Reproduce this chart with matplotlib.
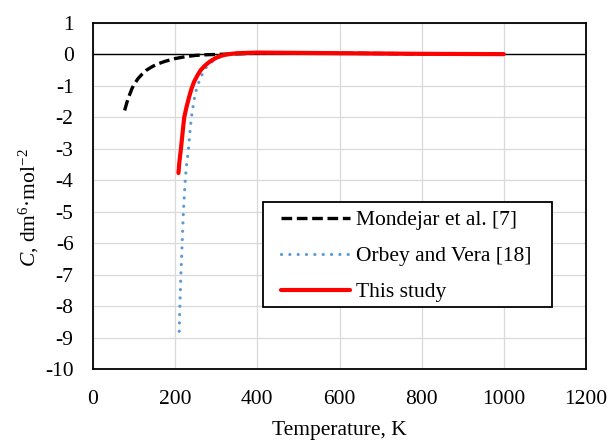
import matplotlib
matplotlib.use("Agg")
import matplotlib.pyplot as plt
from matplotlib.patches import Rectangle

plt.rcParams['font.family'] = ['Liberation Serif', 'DejaVu Serif']
plt.rcParams['mathtext.fontset'] = 'custom'
plt.rcParams['mathtext.rm'] = 'Liberation Serif'
plt.rcParams['mathtext.it'] = 'Liberation Serif:italic'
plt.rcParams['axes.unicode_minus'] = False

# Mondejar et al. [7]
t_mondejar = [77, 82, 86, 90, 95, 100, 110, 120, 130, 145, 160, 175, 200, 225, 250,
              275, 300, 325, 350, 400, 500, 600, 700, 800, 900, 1000]
c_mondejar = [-1.78, -1.55, -1.38, -1.25, -1.08, -0.95, -0.76, -0.62, -0.50, -0.38,
              -0.29, -0.22, -0.13, -0.07, -0.03, -0.01, 0.0, 0.01, 0.02, 0.04, 0.05,
              0.04, 0.03, 0.02, 0.015, 0.01]

# Orbey and Vera [18]
t_orbey = [209.8, 211.4, 213.9, 217, 220, 224.5, 227.5, 232.4, 235.6, 239.7, 246, 250,
           258, 270, 283, 295, 307, 325, 350, 400, 500, 600, 800, 1000]
c_orbey = [-8.8, -8.0, -7.0, -6.0, -5.0, -4.0, -3.53, -3.03, -2.5, -1.98, -1.45, -1.19,
           -0.87, -0.5, -0.3, -0.18, -0.1, -0.02, 0.02, 0.05, 0.05, 0.04, 0.02, 0.01]

# This study
t_study = [208, 210, 214, 218, 222, 228, 234, 240, 246, 254, 262, 272, 283, 295, 307,
           325, 350, 400, 500, 600, 700, 800, 900, 1000]
c_study = [-3.77, -3.45, -3.0, -2.5, -2.0, -1.65, -1.35, -1.08, -0.87, -0.67, -0.5,
           -0.36, -0.24, -0.14, -0.06, 0.0, 0.04, 0.06, 0.05, 0.04, 0.03, 0.02, 0.015, 0.01]

labels = ["Mondejar et al. [7]", "Orbey and Vera [18]", "This study"]
x_ticks = [0, 200, 400, 600, 800, 1000, 1200]
y_ticks = list(range(-10, 2))

FS = 15.5

fig = plt.figure(figsize=(6.11, 4.45), dpi=100)
ax = fig.add_axes([93/611, 1 - 369/445, (586-93)/611, (369-23)/445])

ax.set_xlim(0, 1200)
ax.set_ylim(-10, 1)
ax.set_xticks(x_ticks)
ax.set_yticks(y_ticks)
ax.grid(True, color='#d9d9d9', lw=0.9, zorder=0)
ax.set_axisbelow(True)
ax.axhline(0, color='black', lw=1.0, zorder=1)

ax.plot(t_mondejar, c_mondejar, color='black', lw=2.4, linestyle=(0, (3.2, 1.4)),
        zorder=2, label=labels[0])
ax.plot(t_orbey, c_orbey, color='#5b9bd5', lw=2.3, linestyle=(0, (0.01, 2.6)),
        dash_capstyle='round', zorder=3, label=labels[1])
ax.plot(t_study, c_study, color='#ff0000', lw=3.0, solid_capstyle='round', zorder=4,
        label=labels[2])

for s in ax.spines.values():
    s.set_color('black')
    s.set_linewidth(1.3)

ax.tick_params(length=0, labelsize=FS, pad=15)
ax.tick_params(axis='y', pad=14)
ax.set_xlabel('Temperature, K', fontsize=FS)
ax.xaxis.set_label_coords(0.5, (369-421)/346)
ax.set_ylabel(r'$C$, dm$^{6}$·mol$^{-2}$', fontsize=FS)
ax.yaxis.set_label_coords((41-93)/493, (369-208)/346)

# legend frame
ax.add_patch(Rectangle(((263-93)/493, (369-307)/346), (552-263)/493, (307-202)/346,
                       transform=ax.transAxes, facecolor='white', edgecolor='black',
                       lw=1.3, zorder=5))
leg = ax.legend(loc='upper left', bbox_to_anchor=((281-93)/493, (369-210)/346),
                fontsize=FS, frameon=False, handlelength=3.2, handletextpad=0.3,
                labelspacing=0.74, borderpad=0, borderaxespad=0)
leg.set_zorder(6)

fig.savefig('out.png', dpi=100)
